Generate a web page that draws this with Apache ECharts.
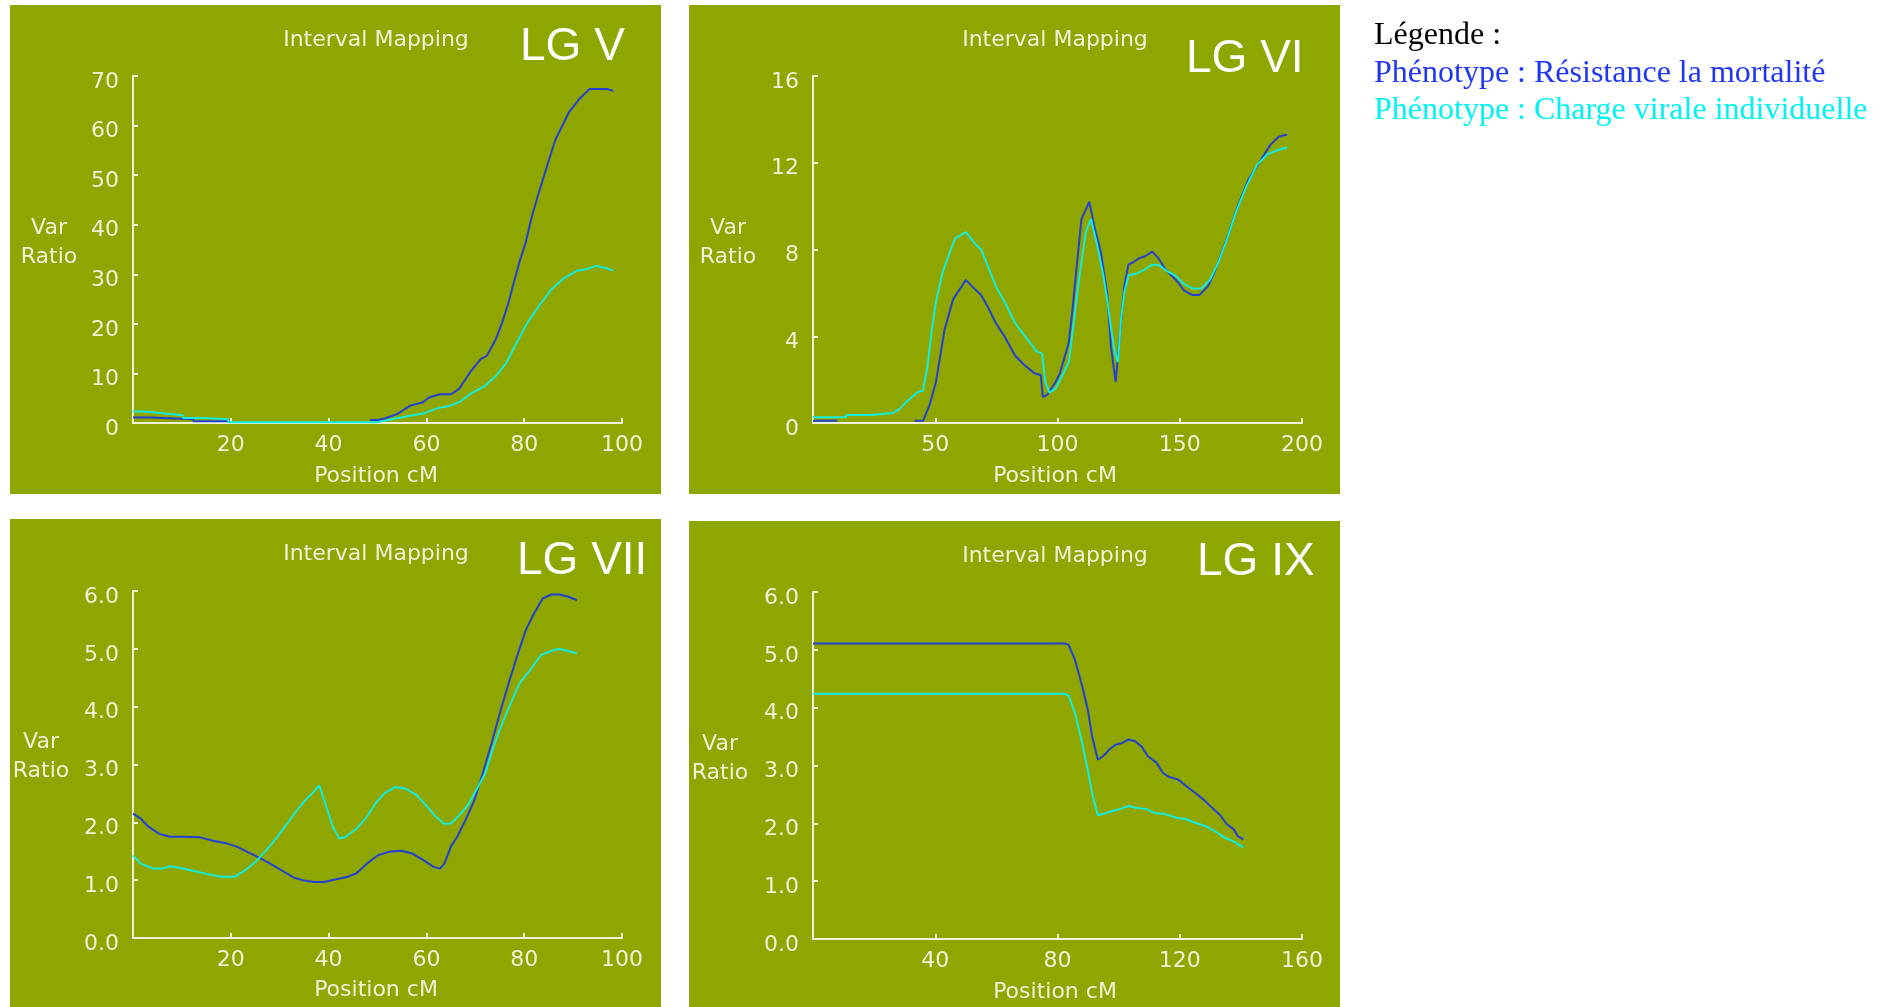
<!DOCTYPE html>
<html>
<head>
<meta charset="utf-8">
<title>Interval Mapping – LG V, VI, VII, IX</title>
<script src="https://cdn.jsdelivr.net/npm/echarts@6/dist/echarts.min.js"></script>
<style>
  html, body { margin: 0; padding: 0; background: #ffffff; }
  #chart { width: 1888px; height: 1007px; }
</style>
</head>
<body>
<div id="chart"></div>
<script>
// ---- Var Ratio profiles along each linkage group (position in cM) ----
// Blue: Résistance la mortalité, Cyan: Charge virale individuelle
// null marks stretches where the curve lies on the axis line and is not drawn.

// LG V
const lgV_mortPos = [0, 3.4, 3.5, 12.3, 12.4, 19.4, 19.6, 47.5, 48.5, 50.2, 51.4, 54.0, 56.7, 59.3, 60.6, 62.8, 65.0, 66.7, 68.9, 71.1, 72.4, 74.2, 75.5, 76.8, 77.7, 79.0, 80.3, 81.6, 83.0, 85.1, 86.4, 89.1, 91.2, 93.4, 96.9, 98.2];
const lgV_mortVal = [1.1, 1.1, 0.75, 0.75, 0.34, 0.34, null, null, 0.6, 0.6, 0.9, 1.8, 3.5, 4.2, 5.2, 5.8, 5.8, 6.9, 10.2, 12.9, 13.6, 16.9, 20.3, 24.3, 27.7, 32.4, 36.4, 41.8, 46.5, 53.2, 57.2, 62.6, 65.3, 67.4, 67.4, 67.0];
const lgV_virPos = [0, 2.4, 2.5, 6.5, 6.6, 10.2, 10.3, 14.3, 14.4, 19.4, 19.6, 50.0, 53.2, 55.8, 59.3, 62.3, 64.5, 66.7, 68.9, 72.0, 74.2, 76.4, 78.5, 80.7, 83.0, 85.6, 88.2, 90.8, 92.6, 94.7, 96.9, 98.2];
const lgV_virVal = [2.3, 2.3, 1.9, 1.9, 1.55, 1.55, 1.0, 1.0, 0.75, 0.75, 0.15, 0.15, 0.8, 1.3, 1.9, 3.0, 3.4, 4.2, 5.8, 7.5, 9.5, 12.2, 16.3, 20.3, 23.6, 27.0, 29.3, 30.7, 31.0, 31.7, 31.2, 30.7];

// LG VI
const lgVI_mortPos = [0, 10, 10.3, 41.2, 41.5, 45, 47.6, 50.3, 53.8, 57.3, 60.8, 62.5, 65.1, 68.7, 71.3, 74.8, 78.3, 82.7, 86.2, 90.5, 93.2, 94.0, 95.8, 99.3, 101.0, 104.6, 106.3, 108.0, 109.8, 113.0, 115.0, 117.7, 120.3, 121.2, 122.0, 123.8, 125.6, 127.3, 129.0, 130.8, 133.5, 136.0, 138.7, 141.3, 144.0, 146.6, 149.2, 151.8, 155.3, 158.0, 161.5, 164.0, 166.7, 170.2, 173.7, 178.0, 182.5, 186.9, 190.4, 193.9];
const lgVI_mortVal = [0.1, 0.1, null, null, 0.1, 0.1, 0.8, 1.9, 4.3, 5.7, 6.3, 6.6, 6.3, 5.9, 5.4, 4.6, 4.0, 3.1, 2.7, 2.3, 2.2, 1.2, 1.3, 1.9, 2.3, 3.7, 5.4, 7.4, 9.4, 10.2, 9.1, 7.9, 6.0, 4.6, 3.4, 1.9, 4.2, 6.3, 7.3, 7.4, 7.6, 7.7, 7.9, 7.6, 7.1, 6.8, 6.5, 6.1, 5.9, 5.9, 6.3, 6.9, 7.7, 8.8, 10.0, 11.2, 12.0, 12.8, 13.2, 13.3];
const lgVI_virPos = [0, 13.5, 13.7, 24.0, 24.3, 32.7, 35.4, 38.0, 42.4, 45.0, 46.8, 48.5, 50.3, 52.9, 54.7, 58.1, 62.5, 66.0, 68.7, 71.3, 74.8, 78.3, 82.7, 85.3, 88.8, 91.4, 93.7, 95.0, 96.7, 99.3, 102.0, 104.6, 106.3, 109.0, 111.6, 113.7, 116.0, 118.6, 120.3, 122.0, 123.4, 124.7, 126.0, 127.3, 129.0, 132.5, 136.0, 138.7, 141.3, 144.8, 148.3, 151.8, 155.3, 158.8, 162.3, 165.8, 169.4, 172.9, 177.2, 181.6, 186.0, 190.4, 193.9];
const lgVI_virVal = [0.26, 0.26, 0.37, 0.37, 0.46, 0.46, 0.65, 0.95, 1.4, 1.5, 2.6, 4.2, 5.6, 6.9, 7.5, 8.5, 8.8, 8.3, 8.0, 7.3, 6.3, 5.6, 4.6, 4.2, 3.7, 3.3, 3.2, 1.9, 1.4, 1.6, 2.2, 2.8, 4.3, 6.8, 8.8, 9.4, 8.3, 6.9, 5.7, 4.3, 3.3, 2.8, 4.8, 6.0, 6.8, 6.9, 7.1, 7.3, 7.3, 7.0, 6.8, 6.4, 6.2, 6.2, 6.6, 7.4, 8.5, 9.7, 10.9, 11.9, 12.4, 12.6, 12.7];

// LG VII
const lgVII_mortPos = [0, 1.5, 3.2, 5.4, 7.6, 10.2, 13.7, 16.4, 19.0, 21.2, 23.4, 26.0, 28.6, 30.8, 33.0, 34.8, 37.0, 39.1, 41.3, 44.0, 45.7, 47.9, 50.1, 52.3, 54.9, 57.1, 59.3, 61.5, 62.8, 63.7, 65.0, 66.3, 68.0, 69.8, 71.5, 73.3, 75.0, 76.8, 78.5, 80.3, 82.0, 83.8, 85.6, 87.3, 89.0, 90.8];
const lgVII_mortVal = [2.15, 2.07, 1.92, 1.80, 1.75, 1.75, 1.74, 1.68, 1.64, 1.58, 1.49, 1.38, 1.26, 1.15, 1.04, 1.0, 0.97, 0.97, 1.01, 1.06, 1.12, 1.29, 1.43, 1.49, 1.51, 1.46, 1.35, 1.23, 1.20, 1.29, 1.58, 1.75, 2.04, 2.38, 2.84, 3.36, 3.88, 4.40, 4.86, 5.32, 5.61, 5.87, 5.94, 5.94, 5.90, 5.84];
const lgVII_virPos = [0, 1.5, 4.1, 5.9, 7.6, 10.2, 12.9, 15.5, 18.1, 20.8, 22.9, 25.1, 27.3, 29.5, 31.3, 33.0, 35.2, 37.0, 38.1, 39.1, 40.9, 42.2, 43.5, 45.7, 47.9, 49.6, 51.4, 53.6, 55.8, 58.0, 60.2, 61.9, 63.7, 65.0, 66.7, 68.5, 70.2, 72.0, 73.7, 75.5, 77.2, 79.0, 81.2, 83.4, 85.1, 86.9, 88.6, 90.8];
const lgVII_virVal = [1.43, 1.29, 1.20, 1.20, 1.24, 1.20, 1.15, 1.10, 1.06, 1.06, 1.17, 1.32, 1.52, 1.75, 1.95, 2.15, 2.38, 2.53, 2.64, 2.38, 1.92, 1.72, 1.75, 1.89, 2.10, 2.33, 2.50, 2.61, 2.58, 2.47, 2.27, 2.10, 1.97, 1.98, 2.12, 2.30, 2.56, 2.84, 3.30, 3.71, 4.05, 4.40, 4.63, 4.89, 4.95, 5.0, 4.97, 4.92];

// LG IX
const lgIX_mortPos = [0, 82.2, 83.6, 85.7, 87.8, 89.9, 91.3, 93.2, 94.9, 97.0, 99.0, 101.2, 103.3, 105.4, 107.5, 109.6, 112.4, 114.5, 116.6, 119.4, 122.2, 125.0, 127.8, 130.6, 133.4, 135.5, 137.6, 139.0, 140.8];
const lgIX_mortVal = [5.11, 5.11, 5.09, 4.83, 4.43, 3.97, 3.51, 3.10, 3.16, 3.28, 3.36, 3.39, 3.45, 3.42, 3.33, 3.16, 3.05, 2.87, 2.80, 2.76, 2.64, 2.53, 2.41, 2.27, 2.13, 1.98, 1.90, 1.78, 1.72];
const lgIX_virPos = [0, 82.2, 83.6, 85.7, 87.8, 89.9, 91.3, 93.2, 94.9, 97.7, 100.5, 103.3, 105.4, 108.9, 111.7, 115.2, 118.7, 122.2, 125.0, 128.5, 131.3, 134.8, 138.3, 140.8];
const lgIX_virVal = [4.24, 4.24, 4.21, 3.91, 3.45, 2.93, 2.53, 2.14, 2.16, 2.21, 2.25, 2.30, 2.27, 2.25, 2.18, 2.16, 2.10, 2.07, 2.01, 1.95, 1.87, 1.75, 1.67, 1.58];

// Axis ranges and titles
const groupNames = ['LG V', 'LG VI', 'LG VII', 'LG IX'];
const xMaxes = [100, 200, 100, 160];
const xSteps = [20, 50, 20, 40];
const yMaxes = [70, 16, 6, 6];
const ySteps = [10, 4, 1, 1];
const yDecimals = [0, 0, 1, 1];
const titleText = 'Interval Mapping';
const xAxisTitle = 'Position cM';
const yAxisTitle = 'Var\nRatio';
const legendTitle = 'Légende :';
const legendMort = 'Phénotype : Résistance la mortalité';
const legendVir = 'Phénotype : Charge virale individuelle';

// ---- styling ----
const BG = '#8fa500';
const INK = '#f1f1da';
const BLUE = '#2340d4';
const CYAN = '#14eee0';
const UI_FONT = '"DejaVu Sans", sans-serif';

// panel frames (olive boxes) and plot areas inside them
const layout = [
  { x: 10,  y: 5,   w: 651, h: 489, plotL: 133, plotT: 76,  lgX: 510, lgY: 42, varX: 39 },
  { x: 689, y: 5,   w: 651, h: 489, plotL: 813, plotT: 76,  lgX: 497, lgY: 54, varX: 39 },
  { x: 10,  y: 519, w: 651, h: 489, plotL: 133, plotT: 591, lgX: 507, lgY: 42, varX: 31 },
  { x: 689, y: 521, w: 651, h: 489, plotL: 813, plotT: 592, lgX: 508, lgY: 41, varX: 31 }
];
const PLOT_W = 489, PLOT_H = 347;

const seriesData = [
  [lgV_mortPos, lgV_mortVal, lgV_virPos, lgV_virVal],
  [lgVI_mortPos, lgVI_mortVal, lgVI_virPos, lgVI_virVal],
  [lgVII_mortPos, lgVII_mortVal, lgVII_virPos, lgVII_virVal],
  [lgIX_mortPos, lgIX_mortVal, lgIX_virPos, lgIX_virVal]
];

const pairs = (xs, ys) => xs.map((x, i) => [x, ys[i] === null ? '-' : ys[i]]);

const axisLineStyle = { color: INK, width: 2 };
const grids = [], xAxes = [], yAxes = [], series = [], graphics = [];

layout.forEach((p, i) => {
  grids.push({ left: p.plotL, top: p.plotT, width: PLOT_W, height: PLOT_H });

  xAxes.push({
    type: 'value', gridIndex: i, min: 0, max: xMaxes[i], interval: xSteps[i], z: 3,
    axisLine: { show: true, onZero: false, lineStyle: axisLineStyle },
    axisTick: { show: true, inside: true, length: 5, lineStyle: axisLineStyle },
    axisLabel: { color: INK, fontFamily: UI_FONT, fontSize: 22, margin: 11, showMinLabel: false },
    splitLine: { show: false }
  });

  yAxes.push({
    type: 'value', gridIndex: i, min: 0, max: yMaxes[i], interval: ySteps[i], z: 3,
    axisLine: { show: true, onZero: false, lineStyle: axisLineStyle },
    axisTick: { show: true, inside: true, length: 5, lineStyle: axisLineStyle },
    axisLabel: {
      color: INK, fontFamily: UI_FONT, fontSize: 22, margin: 14,
      verticalAlign: 'top', lineHeight: 12,
      formatter: v => v.toFixed(yDecimals[i])
    },
    splitLine: { show: false }
  });

  const d = seriesData[i];
  series.push({
    name: legendMort, type: 'line', xAxisIndex: i, yAxisIndex: i,
    data: pairs(d[0], d[1]), showSymbol: false, symbol: 'none', connectNulls: false,
    lineStyle: { color: BLUE, width: 2 }, itemStyle: { color: BLUE }, animation: false
  });
  series.push({
    name: legendVir, type: 'line', xAxisIndex: i, yAxisIndex: i,
    data: pairs(d[2], d[3]), showSymbol: false, symbol: 'none', connectNulls: false,
    lineStyle: { color: CYAN, width: 2 }, itemStyle: { color: CYAN }, animation: false
  });

  // olive panel background
  graphics.push({
    type: 'rect', silent: true, z: -10,
    shape: { x: p.x, y: p.y, width: p.w, height: p.h },
    style: { fill: BG }
  });
  const txt = (text, x, y, font, fill, align, extra) => ({
    type: 'text', silent: true, z: 10, x: x, y: y,
    style: Object.assign({
      text: text, font: font, fill: fill,
      align: align, textAlign: align,
      verticalAlign: 'middle', textVerticalAlign: 'middle'
    }, extra || {})
  });
  graphics.push(txt(titleText, p.x + 366, p.y + 35, '22px ' + UI_FONT, INK, 'center'));
  graphics.push(txt(groupNames[i], p.x + p.lgX, p.y + p.lgY, '46px "Liberation Sans", Arial, sans-serif', '#ffffff', 'left'));
  graphics.push(txt(yAxisTitle, p.x + p.varX, p.y + 238, '22px ' + UI_FONT, INK, 'center', { lineHeight: 29 }));
  graphics.push(txt(xAxisTitle, p.x + 366, p.y + 471, '22px ' + UI_FONT, INK, 'center'));
});

// legend block on the right
const serif = '32px "Liberation Serif", "Times New Roman", serif';
[[legendTitle, 36, '#000000'], [legendMort, 74, '#1f36f5'], [legendVir, 111, '#00f2f2']].forEach(([t, y, c]) => {
  graphics.push({
    type: 'text', silent: true, z: 10, x: 1374, y: y,
    style: { text: t, font: serif, fill: c, align: 'left', textAlign: 'left', verticalAlign: 'middle', textVerticalAlign: 'middle' }
  });
});

const chart = echarts.init(document.getElementById('chart'), null, { renderer: 'canvas' });
chart.setOption({
  backgroundColor: '#ffffff',
  animation: false,
  grid: grids,
  xAxis: xAxes,
  yAxis: yAxes,
  series: series,
  graphic: { elements: graphics }
});
</script>
</body>
</html>
